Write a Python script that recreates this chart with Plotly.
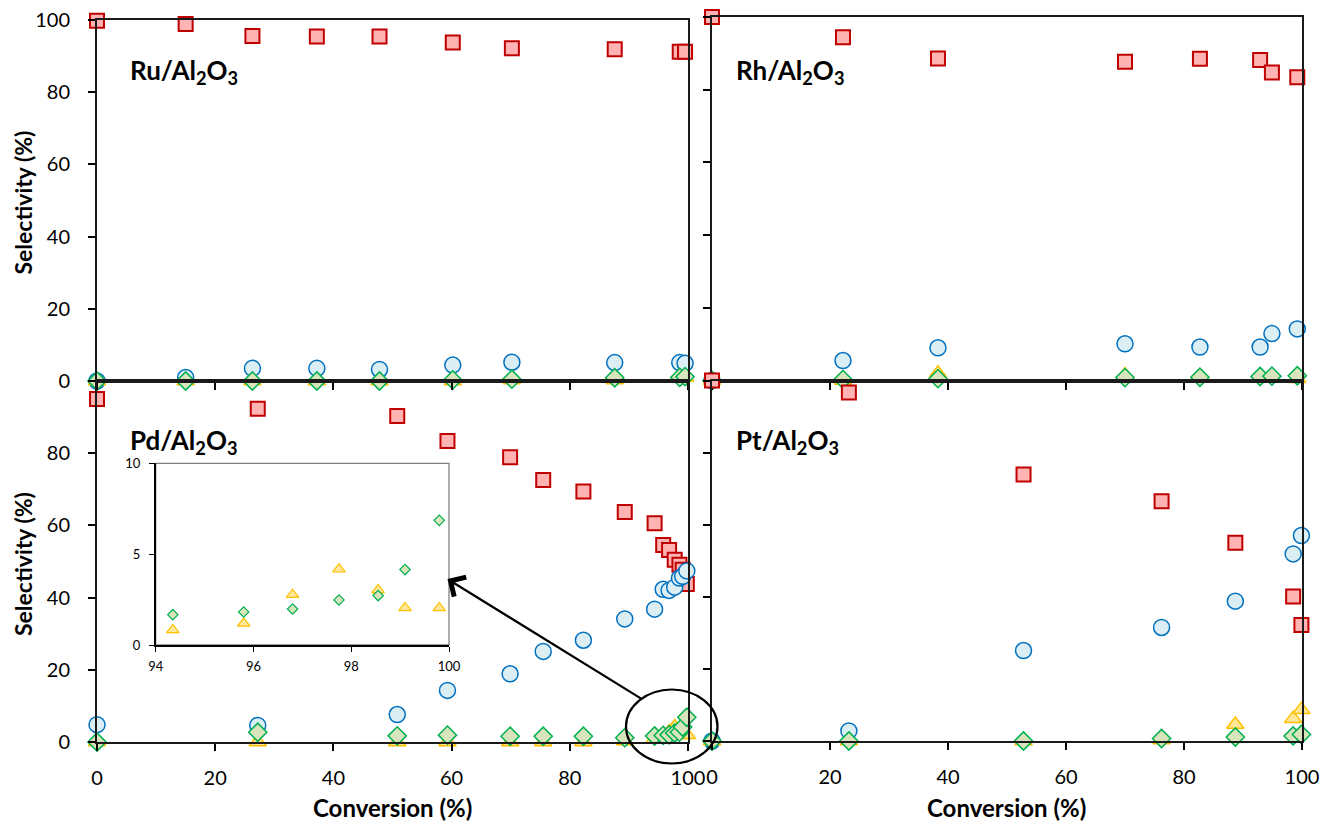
import plotly.graph_objects as go

W, H = 1327, 824

# ---------------- data ----------------
ru_conv = [0, 15.0, 26.3, 37.2, 47.8, 60.2, 70.2, 87.6, 98.6, 99.5]
ru_sq = [99.8, 98.9, 95.6, 95.4, 95.4, 93.8, 92.2, 91.9, 91.2, 91.2]
ru_circ = [0, 1.0, 3.5, 3.5, 3.2, 4.4, 5.2, 5.1, 5.1, 4.9]
ru_tri = [0, 0, 0, 0, 0, 0, 0.3, 0.3, 1.2, 1.0]
ru_dia = [0, 0, 0, 0, 0, 0.3, 0.5, 0.9, 1.0, 1.2]

rh_conv = [0, 22.2, 38.3, 70.0, 82.7, 92.9, 94.9, 99.2]
rh_sq = [100, 94.4, 88.6, 87.7, 88.5, 88.2, 84.7, 83.4]
rh_circ = [0, 5.5, 9.0, 10.1, 9.2, 9.2, 12.9, 14.2]
rh_tri = [0, 0, 2.0, 1.5, 0.8, 1.0, 0.6, 0.5]
rh_dia = [0, 0.3, 0.5, 0.8, 0.9, 1.1, 1.2, 1.3]

pd_conv = [0, 27.2, 50.8, 59.3, 69.9, 75.5, 82.3, 89.3, 94.35, 95.8, 96.8, 97.75, 98.55, 99.1, 99.8]
pd_sq = [95.0, 92.3, 90.3, 83.4, 78.9, 72.6, 69.4, 63.7, 60.6, 54.6, 53.2, 50.5, 49.1, 47.7, 43.8]
pd_circ = [4.8, 4.6, 7.6, 14.3, 18.9, 25.1, 28.2, 34.1, 36.8, 42.3, 42.0, 42.9, 45.4, 45.9, 47.4]
pd_tri = [0, 0, 0, 0, 0, 0, 0, 0.3, 0.83, 1.19, 2.77, 4.17, 3.03, 2.04, 2.04]
pd_dia = [0, 2.7, 1.7, 1.9, 1.6, 1.6, 1.6, 1.2, 1.67, 1.82, 1.98, 2.48, 2.72, 4.15, 6.86]

pt_conv = [0, 23.2, 52.8, 76.2, 88.7, 98.5, 99.9]
pt_sq = [100, 96.7, 73.9, 66.5, 55.0, 40.1, 32.2]
pt_circ = [0, 2.8, 25.1, 31.5, 38.8, 51.9, 57.0]
pt_tri = [0, 0, 0, 0.3, 4.6, 6.2, 8.7]
pt_dia = [0, 0, 0, 0.7, 1.1, 1.4, 1.8]

inset_start = 8  # Pd points shown in the zoomed inset (conversion > 94 %)

panel_labels = ["Ru/Al<sub>2</sub>O<sub>3</sub>", "Rh/Al<sub>2</sub>O<sub>3</sub>",
                "Pd/Al<sub>2</sub>O<sub>3</sub>", "Pt/Al<sub>2</sub>O<sub>3</sub>"]
main_ticks = [0, 20, 40, 60, 80, 100]
lower_yticks = [0, 20, 40, 60, 80]
inset_xticks = [94, 96, 98, 100]
inset_yticks = [0, 5, 10]

# ---------------- styles ----------------
FONT = "Lato"
SQ = dict(symbol="square", size=14, color="#FFB3B3", line=dict(color="#C00000", width=2))
CI = dict(symbol="circle", size=16, color="#DAEEF3", line=dict(color="#0070C0", width=1.5))
TR = dict(symbol="triangle-up", size=15, color="#FFE699", line=dict(color="#FFC000", width=1.5))
DI = dict(symbol="diamond", size=14, color="#D8E4BC", line=dict(color="#00B050", width=1.5))


def px_x(p):
    return p / W


def px_y(p):
    return 1 - p / H


fig = go.Figure()

panels = [
    ("x", "y", ru_conv, ru_sq, ru_circ, ru_tri, ru_dia),
    ("x2", "y2", rh_conv, rh_sq, rh_circ, rh_tri, rh_dia),
    ("x3", "y3", pd_conv, pd_sq, pd_circ, pd_tri, pd_dia),
    ("x4", "y4", pt_conv, pt_sq, pt_circ, pt_tri, pt_dia),
]
for xa, ya, cv, sq, ci, tr, di in panels:
    for vals, mk in ((sq, SQ), (ci, CI), (tr, TR), (di, DI)):
        fig.add_trace(go.Scatter(x=cv, y=vals, mode="markers", marker=mk,
                                 xaxis=xa, yaxis=ya, cliponaxis=False,
                                 showlegend=False, hoverinfo="x+y"))

# inset
SI_TR = dict(symbol="triangle-up", size=11, color="#FFE699", line=dict(color="#FFC000", width=1.2))
SI_DI = dict(symbol="diamond", size=8, color="#D8E4BC", line=dict(color="#00B050", width=1.2))
fig.add_trace(go.Scatter(x=pd_conv[inset_start:], y=pd_tri[inset_start:], mode="markers",
                         marker=SI_TR, xaxis="x5", yaxis="y5", showlegend=False))
fig.add_trace(go.Scatter(x=pd_conv[inset_start:], y=pd_dia[inset_start:], mode="markers",
                         marker=SI_DI, xaxis="x5", yaxis="y5", showlegend=False))

# ---------------- axes ----------------
doms = {
    1: ((97, 688), (381, 20)),
    2: ((712, 1302), (380.5, 17)),
    3: ((97, 688), (742, 381)),
    4: ((712, 1302), (741, 380.5)),
}
tickfont = dict(family=FONT, size=20, color="#000000")
layout = {}
for i, ((x0, x1), (yb, yt)) in doms.items():
    sfx = "" if i == 1 else str(i)
    layout["xaxis" + sfx] = dict(
        domain=[px_x(x0), px_x(x1)], range=[0, 100], anchor="y" + sfx,
        tickvals=main_ticks, ticks="outside", ticklen=7, tickwidth=1.5, tickcolor="#000",
        showticklabels=(i in (3, 4)), tickfont=tickfont, ticklabelstandoff=10,
        showline=True, linecolor="#1a1a1a", linewidth=2, mirror=True, automargin=False,
        showgrid=False, zeroline=False, fixedrange=True)
    layout["yaxis" + sfx] = dict(
        domain=[px_y(yb), px_y(yt)], range=[0, 100], anchor="x" + sfx,
        tickvals=(lower_yticks if i == 3 else main_ticks), ticks="outside", ticklen=7,
        tickwidth=1.5, tickcolor="#000",
        showticklabels=(i in (1, 3)), tickfont=tickfont, ticklabelstandoff=14,
        showline=True, linecolor="#1a1a1a", linewidth=2, mirror=True, automargin=False,
        showgrid=False, zeroline=False, fixedrange=True)

inset_font = dict(family=FONT, size=13, color="#000")
layout["xaxis5"] = dict(domain=[px_x(155.7), px_x(449)], range=[94, 100], anchor="y5",
                        tickvals=inset_xticks, ticks="outside", ticklen=5, tickcolor="#000",
                        tickfont=inset_font, showline=True, linecolor="#000", linewidth=1.5,
                        showgrid=False, zeroline=False, ticklabelstandoff=4,
                        automargin=False, fixedrange=True)
layout["yaxis5"] = dict(domain=[px_y(645), px_y(463.3)], range=[0, 10], anchor="x5",
                        tickvals=inset_yticks, ticks="outside", ticklen=5, tickcolor="#000",
                        tickfont=inset_font, showline=True, linecolor="#000", linewidth=1.5,
                        showgrid=False, zeroline=False, ticklabelstandoff=6,
                        automargin=False, fixedrange=True)

fig.update_layout(**layout)

shapes = [
    # inset frame (top/right lighter)
    dict(type="rect", xref="x5 domain", yref="y5 domain", x0=0, x1=1, y0=0, y1=1,
         line=dict(color="#808080", width=1.3), layer="below"),
    # circle around the high-conversion cluster
    dict(type="circle", xref="paper", yref="paper",
         x0=px_x(626), x1=px_x(717.5), y0=px_y(763.5), y1=px_y(689.5),
         line=dict(color="#000", width=2.2)),
]

annotations = []
label_pos = [(128, 72), (734, 72), (128, 441), (734, 441)]
for txt, (lx, ly) in zip(panel_labels, label_pos):
    annotations.append(dict(text="<b>" + txt + "</b>", xref="paper", yref="paper",
                            x=px_x(lx), y=px_y(ly), xanchor="left", yanchor="middle",
                            showarrow=False, font=dict(family=FONT, size=26, color="#000")))
for yc in (202.5, 564):
    annotations.append(dict(text="<b>Selectivity (%)</b>", xref="paper", yref="paper",
                            x=px_x(23), y=px_y(yc), textangle=-90, showarrow=False,
                            xanchor="center", yanchor="middle",
                            font=dict(family=FONT, size=23, color="#000")))
for xc in (392, 1006.5):
    annotations.append(dict(text="<b>Conversion (%)</b>", xref="paper", yref="paper",
                            x=px_x(xc), y=px_y(807), showarrow=False,
                            xanchor="center", yanchor="middle",
                            font=dict(family=FONT, size=24, color="#000")))
# arrow from circle to inset
annotations.append(dict(text="", xref="paper", yref="paper", x=px_x(447.5), y=px_y(579),
                        ax=196, ay=121, showarrow=True, arrowhead=4, arrowsize=2,
                        arrowwidth=2.2, arrowcolor="#000", standoff=0))

fig.update_layout(width=W, height=H,
                  margin=dict(l=0, r=0, t=0, b=0, pad=0, autoexpand=False),
                  plot_bgcolor="rgba(0,0,0,0)", paper_bgcolor="#FFFFFF",
                  shapes=shapes, annotations=annotations, showlegend=False,
                  font=dict(family=FONT))

fig.write_html("out.html", config={"displayModeBar": False},
               post_script="document.body.style.margin='0';document.body.style.overflow='hidden';")
